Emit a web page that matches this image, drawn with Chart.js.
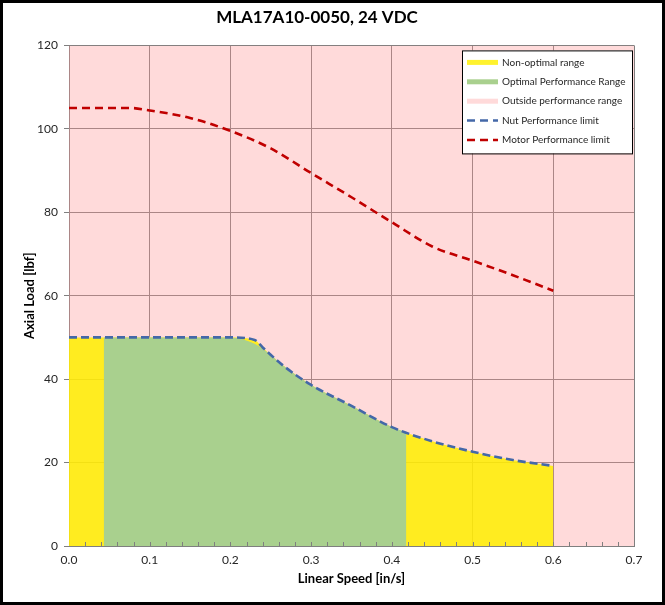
<!DOCTYPE html>
<html>
<head>
<meta charset="utf-8">
<title>MLA17A10-0050, 24 VDC</title>
<script src="https://cdn.jsdelivr.net/npm/chart.js@4.4.0/dist/chart.umd.min.js"></script>
<style>
    html, body { margin: 0; padding: 0; background: #fff; }
    #chart { display: block; }
</style>
</head>
<body>
<canvas id="chart" width="665" height="605"></canvas>
<script>
// ===== DATOS =====
const chartTitle = 'MLA17A10-0050, 24 VDC';
const xAxisTitle = 'Linear Speed [in/s]';
const yAxisTitle = 'Axial Load [lbf]';

// Motor performance limit
const motorSpeed = [0, 0.05, 0.075, 0.1, 0.15, 0.2, 0.25, 0.3, 0.35, 0.4, 0.45, 0.5, 0.55, 0.6];
const motorLoad = [105, 105, 105, 104.4, 102.6, 99.5, 95.3, 89.4, 83.6, 77.6, 71.8, 68.4, 64.9, 61.2];

// Nut performance limit (bajo ella = rango no óptimo)
const nutSpeed = [0, 0.1, 0.2, 0.23, 0.24, 0.265, 0.3, 0.35, 0.4, 0.45, 0.5, 0.55, 0.6];
const nutLoad = [50, 50, 50, 49.4, 47.6, 43.3, 38.6, 33.6, 28.5, 25.1, 22.6, 20.6, 19.2];

// Rango óptimo
const optimalSpeed = [0.043, 0.1, 0.2, 0.23, 0.25, 0.265, 0.3, 0.35, 0.4, 0.418];
const optimalLoad = [50, 50, 50, 48.5, 45.8, 43.3, 38.6, 33.6, 28.5, 27.2];

// Fuera de rango (todo el fondo)
const outsideSpeed = [0, 0.7];
const outsideLoad = [120, 120];

const xMin = 0, xMax = 0.7, xStep = 0.1, xMinorStep = 0.02;
const yMin = 0, yMax = 120, yStep = 20;

// ===== ESTILOS =====
const fontFamily = 'Lato, "Liberation Sans", sans-serif';
const textColor = '#262626';
const gridColor = '#7f7f7f';

const toPoints = (xs, ys) => xs.map((x, i) => ({ x, y: ys[i] }));

// ===== PLUGINS =====
const boxLegend = {
    id: 'boxLegend',
    afterDraw(chart) {
        const { ctx, chartArea } = chart;
        const items = chart.data.datasets
            .slice()
            .sort((a, b) => a.legendIndex - b.legendIndex);
        const w = 170, rowH = 19.4;
        const h = rowH * items.length + 6;
        const left = chartArea.right - w - 2;
        const top = chartArea.top + 5;

        ctx.save();
        ctx.fillStyle = '#fff';
        ctx.fillRect(left, top, w, h);
        ctx.strokeStyle = '#000';
        ctx.lineWidth = 1;
        ctx.strokeRect(left + 0.5, top + 0.5, w, h);

        ctx.font = '10px ' + fontFamily;
        ctx.textBaseline = 'middle';
        items.forEach((ds, i) => {
            const cy = top + 12 + i * rowH;
            ctx.beginPath();
            if (ds.borderDash && ds.borderDash.length) {
                ctx.strokeStyle = ds.borderColor;
                ctx.lineWidth = 2.5;
                ctx.setLineDash([8, 5]);
            } else {
                ctx.strokeStyle = ds.legendColor;
                ctx.lineWidth = 5;
                ctx.setLineDash([]);
            }
            ctx.moveTo(left + 5, cy);
            ctx.lineTo(left + 36, cy);
            ctx.stroke();
            ctx.setLineDash([]);
            ctx.fillStyle = textColor;
            ctx.fillText(ds.label, left + 40, cy);
        });
        ctx.restore();
    }
};

const minorTicks = {
    id: 'minorTicks',
    afterDatasetsDraw(chart) {
        const { ctx, scales: { x, y } } = chart;
        const base = y.getPixelForValue(yMin);
        ctx.save();
        ctx.strokeStyle = gridColor;
        ctx.lineWidth = 1;
        const n = Math.round((xMax - xMin) / xMinorStep);
        for (let i = 1; i < n; i++) {
            const px = Math.round(x.getPixelForValue(xMin + i * xMinorStep)) + 0.5;
            ctx.beginPath();
            ctx.moveTo(px, base);
            ctx.lineTo(px, base - 4);
            ctx.stroke();
        }
        ctx.restore();
    }
};

const outerFrame = {
    id: 'outerFrame',
    afterDraw(chart) {
        const { ctx, width, height } = chart;
        ctx.save();
        ctx.strokeStyle = '#000';
        ctx.lineWidth = 3;
        ctx.strokeRect(1.5, 1.5, width - 3, height - 3);
        ctx.restore();
    }
};

// ===== GRÁFICO =====
Chart.defaults.font.family = fontFamily;
Chart.defaults.color = textColor;

const ctx = document.getElementById('chart').getContext('2d');
new Chart(ctx, {
    type: 'line',
    data: {
        datasets: [
            {
                label: 'Motor Performance limit',
                legendIndex: 4,
                data: toPoints(motorSpeed, motorLoad),
                borderColor: '#c00000',
                borderWidth: 2.6,
                borderDash: [8, 5],
                cubicInterpolationMode: 'monotone',
                fill: false,
                pointRadius: 0,
                order: 1
            },
            {
                label: 'Nut Performance limit',
                legendIndex: 3,
                data: toPoints(nutSpeed, nutLoad),
                borderColor: '#4468a8',
                borderWidth: 2.6,
                borderDash: [8, 4],
                cubicInterpolationMode: 'monotone',
                fill: false,
                pointRadius: 0,
                order: 2
            },
            {
                label: 'Optimal Performance Range',
                legendIndex: 1,
                legendColor: '#a9d08e',
                data: toPoints(optimalSpeed, optimalLoad),
                borderWidth: 0,
                borderColor: 'rgba(0,0,0,0)',
                backgroundColor: '#a9d08e',
                cubicInterpolationMode: 'monotone',
                fill: 'origin',
                pointRadius: 0,
                order: 3
            },
            {
                label: 'Non-optimal range',
                legendIndex: 0,
                legendColor: '#fff22e',
                data: toPoints(nutSpeed, nutLoad),
                borderWidth: 0,
                borderColor: 'rgba(0,0,0,0)',
                backgroundColor: 'rgba(255, 240, 0, 0.85)',
                cubicInterpolationMode: 'monotone',
                fill: 'origin',
                pointRadius: 0,
                order: 4
            },
            {
                label: 'Outside performance range',
                legendIndex: 2,
                legendColor: '#ffdada',
                data: toPoints(outsideSpeed, outsideLoad),
                borderWidth: 0,
                borderColor: 'rgba(0,0,0,0)',
                backgroundColor: 'rgba(255, 150, 150, 0.35)',
                fill: 'origin',
                pointRadius: 0,
                order: 5
            }
        ]
    },
    options: {
        responsive: false,
        animation: false,
        layout: { padding: { left: 0, right: 31, top: 0, bottom: 0 } },
        plugins: {
            legend: { display: false },
            tooltip: { enabled: false },
            title: {
                display: true,
                text: chartTitle,
                color: '#000',
                font: { size: 17, weight: 'bold', lineHeight: 1.2 },
                padding: { top: 7, bottom: 18 }
            }
        },
        scales: {
            x: {
                type: 'linear',
                min: xMin,
                max: xMax,
                afterFit: s => { s.height = 59; },
                ticks: {
                    stepSize: xStep,
                    padding: 7,
                    font: { size: 12 },
                    maxRotation: 0,
                    callback: v => v.toFixed(1)
                },
                grid: { color: gridColor, drawTicks: false },
                border: { color: gridColor },
                title: {
                    display: true,
                    text: xAxisTitle,
                    color: '#000',
                    font: { size: 13, weight: 'bold' },
                    padding: { top: 0, bottom: 18 }
                }
            },
            y: {
                min: yMin,
                max: yMax,
                afterFit: s => { s.width = 69; },
                ticks: { stepSize: yStep, padding: 6, font: { size: 12 } },
                grid: { color: gridColor, tickLength: 5 },
                border: { color: gridColor },
                title: {
                    display: true,
                    text: yAxisTitle,
                    color: '#000',
                    font: { size: 13, weight: 'bold' },
                    padding: { top: 22, bottom: 0 }
                }
            }
        }
    },
    plugins: [minorTicks, boxLegend, outerFrame]
});
</script>
</body>
</html>
